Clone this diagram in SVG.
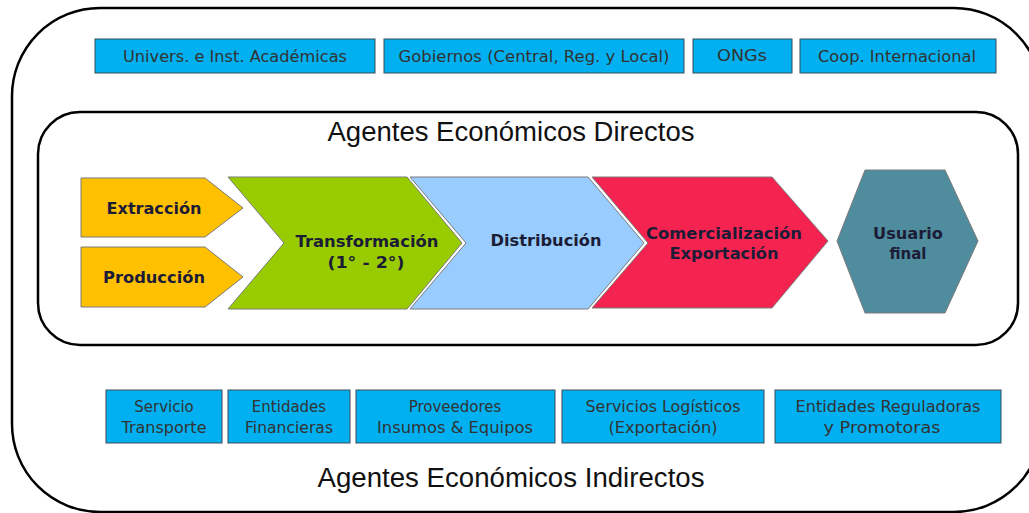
<svg xmlns="http://www.w3.org/2000/svg" width="1029" height="513" viewBox="0 0 1029 513">
<style>
.frame{fill:none;stroke:#000;stroke-width:2.5}
.box{fill:#00B0F0;stroke:#3d4a57;stroke-width:1}
.bt{font-family:"DejaVu Sans","Verdana",sans-serif;font-size:15px;fill:#333;text-anchor:middle}
.title{font-family:"Liberation Sans",Arial,sans-serif;font-size:27px;fill:#111;text-anchor:middle}
.chev{stroke:#7a7a7a;stroke-width:1}
.ct{font-family:"DejaVu Sans","Verdana",sans-serif;font-size:15px;font-weight:bold;fill:#1c1c36;text-anchor:middle}
</style>
<rect width="1029" height="513" fill="#fff"/>
<g id="outer-frame">
<rect class="frame" x="12" y="8" width="1030" height="504" rx="88" ry="88"/>
</g>
<g id="inner-frame">
<rect class="frame" x="38" y="112" width="980" height="233" rx="42" ry="42"/>
<text class="title" x="511" y="141" textLength="367" lengthAdjust="spacingAndGlyphs">Agentes Económicos Directos</text>
</g>
<g id="top-univers">
<rect class="box" x="95" y="39" width="280" height="34"/>
<text class="bt" x="235" y="62" textLength="224" lengthAdjust="spacingAndGlyphs">Univers. e Inst. Académicas</text>
</g>
<g id="top-gobiernos">
<rect class="box" x="384" y="39" width="300" height="34"/>
<text class="bt" x="534" y="62" textLength="271" lengthAdjust="spacingAndGlyphs">Gobiernos (Central, Reg. y Local)</text>
</g>
<g id="top-ongs">
<rect class="box" x="693" y="39" width="99" height="34"/>
<text class="bt" x="742" y="61" textLength="50" lengthAdjust="spacingAndGlyphs">ONGs</text>
</g>
<g id="top-coop">
<rect class="box" x="800" y="39" width="196" height="34"/>
<text class="bt" x="897" y="62" textLength="158" lengthAdjust="spacingAndGlyphs">Coop. Internacional</text>
</g>
<g id="extraccion">
<polygon class="chev" fill="#FFC000" points="81,178 205,178 243,208 205,237 81,237"/>
<text class="ct" x="154" y="214" textLength="95" lengthAdjust="spacingAndGlyphs">Extracción</text>
</g>
<g id="produccion">
<polygon class="chev" fill="#FFC000" points="81,247 205,247 243,277 205,307 81,307"/>
<text class="ct" x="154" y="283" textLength="102" lengthAdjust="spacingAndGlyphs">Producción</text>
</g>
<g id="transformacion">
<polygon class="chev" fill="#99CC00" points="228,177 407,177 462,243 407,309 228,309 284,243"/>
<text class="ct" x="367" y="247" textLength="143" lengthAdjust="spacingAndGlyphs">Transformación</text>
<text class="ct" x="366" y="268" textLength="77" lengthAdjust="spacingAndGlyphs">(1° - 2°)</text>
</g>
<g id="distribucion">
<polygon class="chev" fill="#99CCFF" points="410,177 588,177 644,243 588,309 410,309 466,243"/>
<text class="ct" x="546" y="246" textLength="111" lengthAdjust="spacingAndGlyphs">Distribución</text>
</g>
<g id="comercializacion">
<polygon class="chev" fill="#F5234F" points="592,177 772,177 828,241 772,308 592,308 648,243"/>
<text class="ct" x="724" y="239" textLength="156" lengthAdjust="spacingAndGlyphs">Comercialización</text>
<text class="ct" x="724" y="259" textLength="109" lengthAdjust="spacingAndGlyphs">Exportación</text>
</g>
<g id="usuario-final">
<polygon class="chev" fill="#4E8C9E" points="837,241 865,170 945,170 978,241 945,313 865,313"/>
<text class="ct" x="908" y="239" textLength="70" lengthAdjust="spacingAndGlyphs">Usuario</text>
<text class="ct" x="908" y="259" textLength="37" lengthAdjust="spacingAndGlyphs">final</text>
</g>
<g id="bot-transporte">
<rect class="box" x="106" y="390" width="116" height="53"/>
<text class="bt" x="164" y="412">Servicio</text>
<text class="bt" x="164" y="433" textLength="85" lengthAdjust="spacingAndGlyphs">Transporte</text>
</g>
<g id="bot-financieras">
<rect class="box" x="228" y="390" width="122" height="53"/>
<text class="bt" x="289" y="412">Entidades</text>
<text class="bt" x="289" y="433" textLength="88" lengthAdjust="spacingAndGlyphs">Financieras</text>
</g>
<g id="bot-proveedores">
<rect class="box" x="356" y="390" width="199" height="53"/>
<text class="bt" x="455" y="412">Proveedores</text>
<text class="bt" x="455" y="433" textLength="156" lengthAdjust="spacingAndGlyphs">Insumos &amp; Equipos</text>
</g>
<g id="bot-logisticos">
<rect class="box" x="562" y="390" width="202" height="53"/>
<text class="bt" x="663" y="412" textLength="155" lengthAdjust="spacingAndGlyphs">Servicios Logísticos</text>
<text class="bt" x="663" y="433" textLength="109" lengthAdjust="spacingAndGlyphs">(Exportación)</text>
</g>
<g id="bot-reguladoras">
<rect class="box" x="775" y="390" width="226" height="53"/>
<text class="bt" x="888" y="412" textLength="185" lengthAdjust="spacingAndGlyphs">Entidades Reguladoras</text>
<text class="bt" x="882" y="433" textLength="117" lengthAdjust="spacingAndGlyphs">y Promotoras</text>
</g>
<g id="indirectos-label">
<text class="title" x="511" y="487" textLength="387" lengthAdjust="spacingAndGlyphs">Agentes Económicos Indirectos</text>
</g>
<g id="connectors"></g>
</svg>
